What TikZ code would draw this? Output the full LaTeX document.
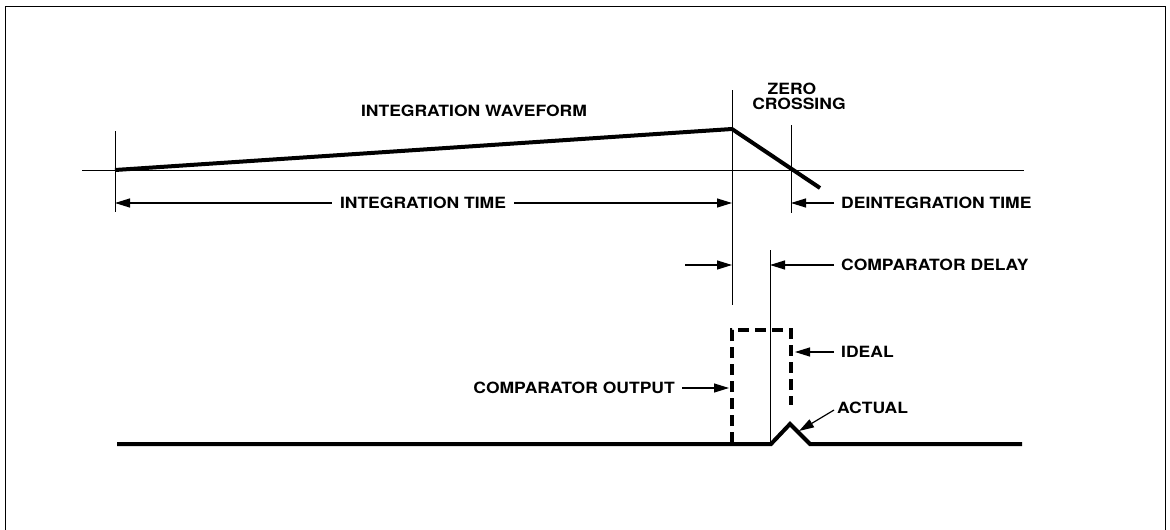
\documentclass[tikz,border=0pt]{standalone}
\usepackage{fontspec}
\setmainfont[FakeStretch=1.13]{TeX Gyre Heros}
\usetikzlibrary{arrows.meta}
\begin{document}
\begin{tikzpicture}[x=1pt,y=-1pt,
  lbl/.style={font=\fontsize{15.5}{17}\selectfont\bfseries, inner sep=0pt},
  thin line/.style={line width=0.9pt},
  wave/.style={line width=4pt, line join=miter},
  arr/.style={line width=1.2pt, -{Triangle[length=15pt,width=9pt]}},
  dashbox/.style={line width=3.5pt, dash pattern=on 11pt off 6pt}]
\useasboundingbox (0,0) rectangle (1170,530);
% frame
\draw[line width=1pt] (5,530) -- (5,6) -- (1165,6) -- (1165,530);
% axis and markers
\coordinate (a0) at (82,170);
\coordinate (a1) at (1024,170);
\draw[thin line] (a0) -- (a1);
\coordinate (v0t) at (115,131); \coordinate (v0b) at (115,212);
\coordinate (v1t) at (732,90);  \coordinate (v1b) at (732,305);
\coordinate (v2t) at (791,125); \coordinate (v2b) at (791,213);
\coordinate (v3t) at (770,250); \coordinate (v3b) at (770,443);
\draw[thin line] (v0t) -- (v0b);
\draw[thin line] (v1t) -- (v1b);
\draw[thin line] (v2t) -- (v2b);
\draw[thin line] (v3t) -- (v3b);
% integration waveform
\coordinate (w0) at (115,170);
\coordinate (w1) at (732,129);
\coordinate (w2) at (820,188);
\draw[wave] (w0) -- (w1) -- (w2);
% labels
\node[lbl] (iw) at (474,111) {INTEGRATION WAVEFORM};
\node[lbl] (zc1) at (792,88.5) {ZERO};
\node[lbl] (zc2) at (799,103.5) {CROSSING};
% integration time
\node[lbl, inner xsep=8pt] (it) at (423,203) {INTEGRATION TIME};
\coordinate (itl) at (115,203);
\coordinate (itr) at (732,203);
\draw[arr] (it.west) -- (itl);
\draw[arr] (it.east) -- (itr);
% deintegration time
\node[lbl, anchor=west] (dt) at (841,203) {DEINTEGRATION TIME};
\coordinate (dtt) at (791,203);
\draw[arr] ([xshift=-7pt]dt.west) -- (dtt);
% comparator delay
\node[lbl, anchor=west] (cd) at (841,265) {COMPARATOR DELAY};
\coordinate (cdl) at (685,265);
\coordinate (cdl2) at (732,265);
\coordinate (cdt) at (770,265);
\draw[arr] (cdl) -- (cdl2);
\draw[arr] ([xshift=-7pt]cd.west) -- (cdt);
% ideal pulse
\coordinate (d0) at (732,443);
\coordinate (d1) at (732,330);
\coordinate (d2) at (791,330);
\coordinate (d3) at (791,405);
\draw[dashbox] (d0) -- (d1) -- (d2) -- (d3);
\node[lbl, anchor=west] (id) at (841,352) {IDEAL};
\coordinate (idt) at (795,352);
\draw[arr] ([xshift=-7pt]id.west) -- (idt);
% comparator output
\node[lbl, anchor=east] (co) at (675,388) {COMPARATOR OUTPUT};
\coordinate (cot) at (729,388);
\draw[arr] ([xshift=7pt]co.east) -- (cot);
% actual output
\coordinate (b0) at (117,444);
\coordinate (b1) at (771,444);
\coordinate (b2) at (790,424);
\coordinate (b3) at (810,444);
\coordinate (b4) at (1022,444);
\draw[wave] (b0) -- (b1) -- (b2) -- (b3) -- (b4);
\node[lbl, anchor=west] (ac) at (837,408) {ACTUAL};
\coordinate (act) at (799,431);
\draw[arr] ([xshift=-3pt,yshift=-2pt]ac.west) -- (act);
\end{tikzpicture}
\end{document}
